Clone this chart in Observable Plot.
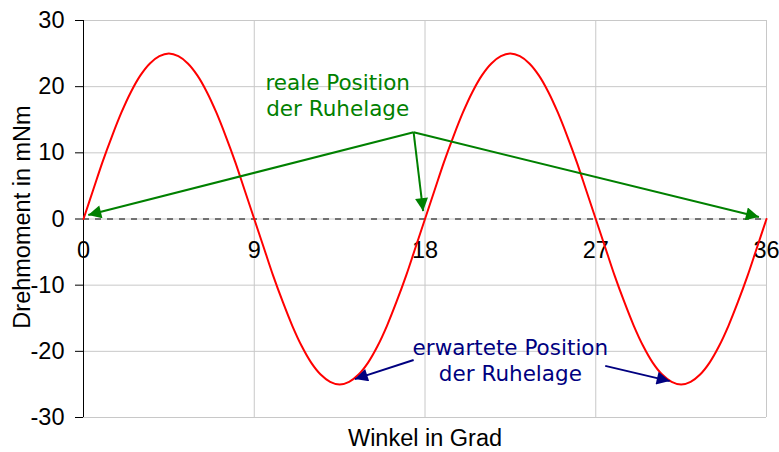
<!DOCTYPE html>
<html>
<head>
<meta charset="utf-8">
<script src="https://cdn.jsdelivr.net/npm/d3@7"></script>
<script src="https://cdn.jsdelivr.net/npm/@observablehq/plot@0.6"></script>
<style>
  html, body { margin: 0; padding: 0; background: #fff; }
  #chart svg { display: block; }
</style>
</head>
<body>
<div id="chart"></div>
<script>
// Angle (degrees) and torque (mNm)
const angle = [0,0.5,1,1.5,2,2.5,3,3.5,4,4.5,5,5.5,6,6.5,7,7.5,8,8.5,9,
  9.5,10,10.5,11,11.5,12,12.5,13,13.5,14,14.5,15,15.5,16,16.5,17,17.5,18,
  18.5,19,19.5,20,20.5,21,21.5,22,22.5,23,23.5,24,24.5,25,25.5,26,26.5,27,
  27.5,28,28.5,29,29.5,30,30.5,31,31.5,32,32.5,33,33.5,34,34.5,35,35.5,36];
const torque = [0,4.3,8.6,12.5,16.1,19.2,21.7,23.5,24.6,25,24.6,23.5,21.7,19.2,16.1,12.5,8.6,4.3,0,
  -4.3,-8.6,-12.5,-16.1,-19.2,-21.7,-23.5,-24.6,-25,-24.6,-23.5,-21.7,-19.2,-16.1,-12.5,-8.6,-4.3,0,
  4.3,8.6,12.5,16.1,19.2,21.7,23.5,24.6,25,24.6,23.5,21.7,19.2,16.1,12.5,8.6,4.3,0,
  -4.3,-8.6,-12.5,-16.1,-19.2,-21.7,-23.5,-24.6,-25,-24.6,-23.5,-21.7,-19.2,-16.1,-12.5,-8.6,-4.3,0];

const xTicks = [0, 9, 18, 27, 36];
const yTicks = [-30, -20, -10, 0, 10, 20, 30];

// Annotation arrows (from -> to), in data units
const greenFromX = [17.4, 17.4, 17.4];
const greenFromY = [13.1, 13.1, 13.1];
const greenToX = [0.25, 17.9, 35.6];
const greenToY = [0.6, 1.2, 0.3];
const blueFromX = [17.4, 27.5];
const blueFromY = [-21.3, -22.2];
const blueToX = [14.3, 30.9];
const blueToY = [-24.2, -24.5];

const greenLabel = "reale Position\nder Ruhelage";
const blueLabel = "erwartete Position\nder Ruhelage";

const curve = angle.map((a, i) => ({x: a, y: torque[i]}));
const greenArrows = greenFromX.map((_, i) => ({x1: greenFromX[i], y1: greenFromY[i], x2: greenToX[i], y2: greenToY[i]}));
const blueArrows = blueFromX.map((_, i) => ({x1: blueFromX[i], y1: blueFromY[i], x2: blueToX[i], y2: blueToY[i]}));

const svg = Plot.plot({
  width: 779,
  height: 452,
  marginLeft: 83,
  marginRight: 13,
  marginTop: 20,
  marginBottom: 35,
  style: {fontFamily: "'Liberation Sans', Arial, sans-serif", background: "#fff"},
  x: {domain: [0, 36]},
  y: {domain: [-30, 30]},
  marks: [
    Plot.gridY(yTicks, {stroke: "#c8c8c8", strokeOpacity: 1, strokeWidth: 1}),
    Plot.gridX(xTicks.slice(1), {stroke: "#c8c8c8", strokeOpacity: 1, strokeWidth: 1}),
    Plot.axisY(yTicks, {tickSize: 8, tickPadding: 11, fontSize: 23.5, label: null, fill: "#000", tickFormat: d => String(d)}),
    Plot.axisX({ticks: [], label: null, tickSize: 0}),
    Plot.ruleX([0], {stroke: "#000", strokeWidth: 1}),
    Plot.ruleY([0], {stroke: "#000", strokeWidth: 1, strokeDasharray: "6,6"}),
    Plot.text(xTicks, {x: d => d, y: 0, dy: 31, text: d => String(d), fontSize: 23.5, fill: "#000"}),
    Plot.line(curve, {x: "x", y: "y", stroke: "#ff0000", strokeWidth: 2, curve: "catmull-rom"}),
    Plot.link(greenArrows, {x1: "x1", y1: "y1", x2: "x2", y2: "y2", stroke: "#008000", strokeWidth: 2}),
    Plot.link(blueArrows, {x1: "x1", y1: "y1", x2: "x2", y2: "y2", stroke: "#000080", strokeWidth: 2}),
    Plot.text([greenLabel], {x: 13.4, y: 18.85, text: d => d, fill: "#008000", fontSize: 21.5, lineHeight: 1.21, fontFamily: "'DejaVu Sans', Verdana, sans-serif"}),
    Plot.text([blueLabel], {x: 22.5, y: -21.3, text: d => d, fill: "#000080", fontSize: 21.5, lineHeight: 1.21, fontFamily: "'DejaVu Sans', Verdana, sans-serif"}),
    Plot.text(["Winkel in Grad"], {frameAnchor: "bottom", lineAnchor: "middle", dy: 21, text: d => d, fontSize: 23.5, fill: "#000"}),
    Plot.text(["Drehmoment in mNm"], {frameAnchor: "left", dx: -61, dy: -2, rotate: -90, textAnchor: "middle", text: d => d, fontSize: 23.5, fill: "#000"})
  ]
});

// Filled triangular arrowheads
const ns = "http://www.w3.org/2000/svg";
const defs = document.createElementNS(ns, "defs");
function addMarker(id, color) {
  const m = document.createElementNS(ns, "marker");
  m.setAttribute("id", id);
  m.setAttribute("viewBox", "0 0 10 10");
  m.setAttribute("refX", "10");
  m.setAttribute("refY", "5");
  m.setAttribute("markerUnits", "userSpaceOnUse");
  m.setAttribute("markerWidth", "16");
  m.setAttribute("markerHeight", "13");
  m.setAttribute("orient", "auto");
  const p = document.createElementNS(ns, "path");
  p.setAttribute("d", "M0,0L10,5L0,10Z");
  p.setAttribute("fill", color);
  p.setAttribute("stroke", "none");
  m.appendChild(p);
  defs.appendChild(m);
}
addMarker("head-green", "#008000");
addMarker("head-blue", "#000080");
svg.insertBefore(defs, svg.firstChild);
const linkGroups = svg.querySelectorAll('g[aria-label="link"]');
if (linkGroups[0]) linkGroups[0].querySelectorAll("path, line").forEach(p => p.setAttribute("marker-end", "url(#head-green)"));
if (linkGroups[1]) linkGroups[1].querySelectorAll("path, line").forEach(p => p.setAttribute("marker-end", "url(#head-blue)"));

document.getElementById("chart").appendChild(svg);
</script>
</body>
</html>
